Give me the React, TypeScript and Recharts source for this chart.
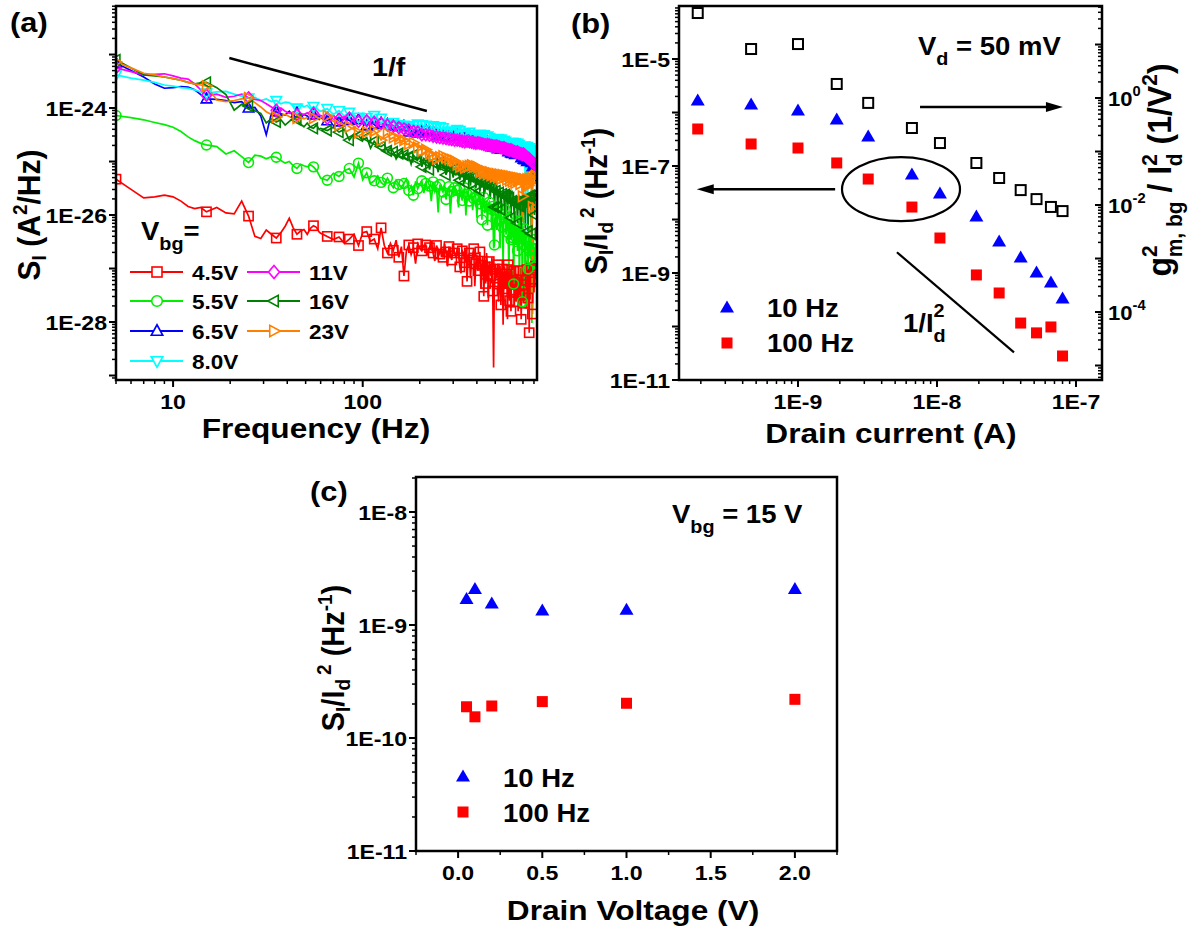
import React from 'react';
import { LineChart, Line, ScatterChart, Scatter, XAxis, YAxis, ReferenceLine, ReferenceDot } from 'recharts';

const FONT = '"Liberation Sans", Arial, Helvetica, sans-serif';

// ---------- panel (a): noise spectra, values stored as log10(S_I in A^2/Hz)
const FREQ = [5, 6, 7, 8, 9, 10, 11, 12, 13, 14, 15,
  17, 19, 21, 23, 25, 27, 29, 31, 33, 35, 37, 39, 41, 43, 45, 47, 49, 51, 53, 55, 57, 59,
  60, 65, 70, 75, 80, 85, 90, 95, 100, 105,
  110, 115, 120, 125, 130, 135, 140, 145, 150, 155,
  160, 165, 170, 175, 180, 185, 190, 195, 200, 205,
  210, 215, 220, 225, 230, 235, 240, 245, 250, 255,
  260, 265, 270, 275, 280, 285, 290, 295, 300, 305,
  310, 315, 320, 325, 330, 335, 340, 345, 350, 355,
  360, 365, 370, 375, 380, 385, 390, 395, 400, 405,
  410, 415, 420, 425, 430, 435, 440, 445, 450, 455,
  460, 465, 470, 475, 480, 485, 490, 495, 500, 505,
  510, 515, 520, 525, 530, 535, 540, 545, 550, 555,
  560, 565, 570, 575, 580, 585, 590, 595, 600, 605,
  610, 615, 620, 625, 630, 635, 640, 645, 650, 655,
  660, 665, 670, 675, 680, 685, 690, 695, 700, 705,
  710, 715, 720, 725, 730, 735, 740, 745, 750, 755,
  760, 765, 770, 775, 780, 785, 790, 795, 800, 805,
  810, 815, 820];

const LOG_SI_4V5 = [-25.33, -25.52, -25.68, -25.66, -25.63, -25.66, -25.74, -25.84, -25.88, -25.86, -25.94,
  -25.86, -25.96, -25.98, -25.74, -26.02, -26.40, -26.44, -26.28, -26.36, -26.43, -26.33, -26.21, -26.06, -26.24, -26.36, -26.30, -26.27, -26.36, -26.25, -26.20, -26.23, -26.32,
  -26.34, -26.40, -26.46, -26.41, -26.53, -26.45, -26.36, -26.57, -26.33, -26.31,
  -26.49, -26.45, -26.63, -26.24, -26.57, -26.71, -26.53, -26.66, -26.47, -26.79,
  -26.59, -27.14, -26.67, -26.56, -26.74, -26.61, -26.91, -26.54, -26.62, -26.67,
  -26.57, -26.56, -26.76, -26.61, -26.49, -26.71, -26.86, -26.57, -26.66, -26.73,
  -26.61, -26.79, -26.54, -26.69, -26.96, -26.59, -26.73, -26.84, -26.57, -26.71,
  -26.79, -26.63, -26.74, -26.97, -27.09, -26.67, -26.71, -26.89, -26.64, -27.24,
  -26.77, -26.71, -27.18, -26.84, -26.73, -26.63, -27.33, -26.91, -26.74, -27.04,
  -26.81, -26.69, -27.38, -26.94, -26.77, -27.52, -26.84, -27.28, -26.71, -26.97,
  -27.55, -26.87, -27.03, -27.14, -26.79, -27.42, -28.85, -27.01, -26.91, -27.18,
  -27.06, -26.93, -27.62, -27.29, -26.95, -27.68, -27.09, -27.01, -28.05, -27.16,
  -26.96, -27.38, -27.12, -27.02, -27.95, -26.93, -27.23, -27.60, -27.01, -27.80,
  -26.94, -27.40, -27.14, -27.05, -27.70, -27.26, -26.97, -27.62, -27.10, -27.22,
  -27.80, -27.04, -27.33, -27.50, -26.98, -27.95, -27.16, -27.30, -27.00, -27.65,
  -27.08, -27.48, -27.00, -27.22, -27.75, -27.02, -27.36, -27.55, -26.93, -28.20,
  -27.10, -27.25, -27.58, -26.99, -27.38, -27.85, -27.06, -27.20, -27.45, -27.02,
  -27.20, -26.95, -27.05];

const LOG_SI_5V5 = [-24.14, -24.18, -24.22, -24.27, -24.31, -24.36, -24.44, -24.54, -24.61, -24.66, -24.69,
  -24.72, -24.86, -24.80, -24.91, -25.02, -24.88, -24.90, -24.95, -24.91, -24.92, -24.98, -25.03, -25.00, -25.08, -25.13, -25.05, -25.08, -25.10, -25.06, -25.10, -25.16, -25.26,
  -25.31, -25.35, -25.22, -25.28, -25.17, -25.13, -25.29, -25.03, -25.34, -25.21,
  -25.41, -25.36, -25.27, -25.39, -25.44, -25.31, -25.41, -25.49, -25.35, -25.43,
  -25.47, -25.41, -25.33, -25.54, -25.46, -25.63, -25.37, -25.51, -25.42, -25.36,
  -25.59, -25.41, -25.51, -25.46, -25.74, -25.38, -25.56, -25.47, -25.95, -25.43,
  -25.51, -25.57, -25.44, -25.71, -25.53, -25.47, -25.97, -25.56, -25.61, -25.49,
  -25.63, -25.54, -25.86, -25.51, -25.64, -25.73, -25.57, -25.49, -26.01, -25.61,
  -25.56, -25.74, -25.63, -25.57, -25.91, -25.69, -25.61, -25.66, -26.05, -25.71,
  -25.64, -25.79, -25.71, -26.09, -25.74, -25.67, -25.96, -25.84, -25.73, -26.19,
  -25.79, -25.76, -25.99, -25.89, -26.28, -25.84, -26.62, -26.56, -25.94, -26.08,
  -26.28, -25.84, -25.96, -26.11, -26.62, -25.88, -26.04, -26.23, -26.92, -25.99,
  -26.12, -25.90, -26.37, -26.19, -25.98, -26.33, -27.10, -26.07, -26.29, -26.46,
  -26.02, -26.42, -26.17, -27.29, -26.32, -26.14, -26.56, -26.42, -26.24, -26.67,
  -26.19, -26.11, -27.32, -26.34, -26.16, -26.44, -26.29, -27.62, -26.19, -26.56,
  -26.39, -26.26, -27.75, -26.49, -26.31, -26.61, -26.44, -27.01, -26.34, -26.66,
  -26.49, -26.81, -26.39, -26.61, -28.02, -26.54, -26.71, -26.46, -27.12, -26.64,
  -26.59, -26.78, -26.54];

const LOG_SI_6V5 = [-23.16, -23.30, -23.42, -23.55, -23.63, -23.62, -23.60, -23.61, -23.66, -23.75, -23.83,
  -23.84, -23.86, -23.90, -23.88, -24.00, -23.99, -24.15, -24.50, -24.10, -24.07, -24.11, -24.13, -24.06, -24.15, -24.09, -24.17, -24.12, -24.15, -24.21, -24.13, -24.19, -24.16,
  -24.18, -24.24, -24.14, -24.26, -24.20, -24.23, -24.30, -24.22, -24.27, -24.33,
  -24.25, -24.31, -24.36, -24.28, -24.34, -24.30, -24.40, -24.33, -24.37, -24.35,
  -24.41, -24.34, -24.39, -24.45, -24.37, -24.42, -24.38, -24.47, -24.40, -24.43,
  -24.48, -24.41, -24.45, -24.43, -24.50, -24.44, -24.47, -24.52, -24.45, -24.49,
  -24.46, -24.53, -24.48, -24.51, -24.47, -24.55, -24.50, -24.52, -24.57, -24.51,
  -24.54, -24.50, -24.58, -24.53, -24.56, -24.52, -24.60, -24.55, -24.57, -24.54,
  -24.61, -24.56, -24.59, -24.63, -24.57, -24.60, -24.58, -24.65, -24.59, -24.62,
  -24.60, -24.66, -24.62, -24.64, -24.61, -24.68, -24.63, -24.66, -24.70, -24.64,
  -24.67, -24.65, -24.71, -24.66, -24.69, -24.73, -24.67, -24.70, -24.68, -24.74,
  -24.70, -24.76, -24.71, -24.73, -24.69, -24.77, -24.72, -24.75, -24.79, -24.73,
  -24.76, -24.74, -24.80, -24.75, -24.78, -24.82, -24.76, -24.79, -24.77, -24.84,
  -24.79, -24.85, -24.80, -24.83, -24.81, -24.87, -24.82, -24.86, -24.90, -24.84,
  -24.87, -24.85, -24.91, -24.86, -24.89, -24.93, -24.88, -24.92, -24.90, -24.96,
  -24.91, -24.97, -24.92, -24.95, -24.93, -25.00, -24.94, -24.98, -25.03, -24.97,
  -25.01, -24.99, -25.06, -25.02, -25.05, -25.10, -25.04, -25.08, -25.13, -25.07,
  -25.15, -25.25, -25.38];

const LOG_SI_8V0 = [-23.38, -23.44, -23.48, -23.52, -23.57, -23.59, -23.62, -23.63, -23.66, -23.70, -23.72,
  -23.70, -23.69, -23.74, -23.78, -23.81, -23.80, -23.86, -23.83, -23.88, -23.86, -23.92, -23.89, -23.90, -23.96, -24.00, -23.93, -23.98, -23.95, -24.02, -23.97, -24.00, -24.05,
  -24.06, -24.01, -24.12, -24.05, -24.15, -24.08, -24.13, -24.17, -24.10, -24.18,
  -24.22, -24.14, -24.25, -24.19, -24.24, -24.29, -24.21, -24.27, -24.23, -24.31,
  -24.26, -24.32, -24.28, -24.35, -24.29, -24.33, -24.38, -24.30, -24.36, -24.31,
  -24.37, -24.32, -24.40, -24.34, -24.39, -24.33, -24.43, -24.36, -24.40, -24.35,
  -24.42, -24.37, -24.41, -24.46, -24.38, -24.43, -24.40, -24.47, -24.39, -24.44,
  -24.45, -24.40, -24.48, -24.42, -24.46, -24.51, -24.43, -24.47, -24.44, -24.50,
  -24.52, -24.45, -24.49, -24.55, -24.47, -24.51, -24.48, -24.56, -24.50, -24.53,
  -24.54, -24.49, -24.58, -24.51, -24.56, -24.50, -24.60, -24.53, -24.57, -24.52,
  -24.61, -24.55, -24.58, -24.63, -24.56, -24.60, -24.57, -24.65, -24.58, -24.62,
  -24.63, -24.57, -24.66, -24.59, -24.64, -24.58, -24.68, -24.61, -24.65, -24.60,
  -24.69, -24.62, -24.66, -24.71, -24.63, -24.67, -24.64, -24.73, -24.65, -24.69,
  -24.70, -24.64, -24.74, -24.66, -24.71, -24.65, -24.76, -24.67, -24.72, -24.66,
  -24.77, -24.68, -24.74, -24.80, -24.69, -24.75, -24.71, -24.82, -24.70, -24.76,
  -24.78, -24.71, -25.60, -24.73, -24.80, -24.72, -26.55, -24.75, -24.83, -24.74,
  -24.86, -24.77, -24.84, -24.79, -26.40, -24.80, -24.88, -24.81, -24.90, -24.82,
  -24.92, -24.84, -24.95];

const LOG_SI_11V = [-23.25, -23.32, -23.38, -23.37, -23.36, -23.40, -23.44, -23.46, -23.55, -23.66, -23.76,
  -23.74, -23.80, -23.78, -23.74, -23.81, -23.84, -23.86, -23.92, -23.98, -24.04, -24.00, -24.06, -24.10, -24.08, -24.13, -24.10, -24.12, -24.09, -24.14, -24.10, -24.15, -24.13,
  -24.14, -24.19, -24.15, -24.21, -24.16, -24.19, -24.23, -24.25, -24.27, -24.24,
  -24.31, -24.27, -24.33, -24.29, -24.36, -24.32, -24.37, -24.34, -24.41, -24.37,
  -24.43, -24.39, -24.45, -24.41, -24.48, -24.44, -24.47, -24.45, -24.51, -24.50,
  -24.53, -24.50, -24.55, -24.51, -24.54, -24.53, -24.58, -24.54, -24.56, -24.55,
  -24.59, -24.56, -24.58, -24.57, -24.61, -24.58, -24.60, -24.59, -24.63, -24.60,
  -24.61, -24.60, -24.64, -24.61, -24.63, -24.62, -24.66, -24.63, -24.64, -24.62,
  -24.67, -24.63, -24.65, -24.64, -24.68, -24.65, -24.67, -24.66, -24.69, -24.65,
  -24.68, -24.66, -24.70, -24.67, -24.69, -24.68, -24.72, -24.69, -24.70, -24.68,
  -24.72, -24.69, -24.71, -24.70, -24.74, -24.71, -24.73, -24.72, -24.75, -24.71,
  -24.74, -24.72, -24.76, -24.73, -24.75, -24.74, -24.78, -24.75, -24.76, -24.74,
  -24.79, -24.76, -24.78, -24.77, -24.81, -24.78, -24.80, -24.79, -24.82, -24.78,
  -24.81, -24.80, -24.84, -24.81, -24.83, -24.82, -24.86, -24.83, -24.84, -24.82,
  -24.87, -24.84, -24.86, -24.85, -24.89, -24.86, -24.88, -24.87, -24.90, -24.86,
  -24.91, -24.88, -24.93, -24.90, -24.95, -24.92, -24.96, -24.94, -24.98, -24.95,
  -25.00, -24.97, -25.02, -24.99, -25.04, -25.01, -25.05, -25.03, -25.07, -25.04,
  -25.08, -25.06, -25.10];

const LOG_SI_16V = [-23.10, -23.25, -23.38, -23.40, -23.42, -23.45, -23.48, -23.52, -23.55, -23.53, -23.52,
  -23.62, -23.75, -24.04, -23.93, -23.96, -24.05, -24.10, -24.28, -24.20, -24.26, -24.22, -24.32, -24.25, -24.20, -24.22, -24.30, -24.35, -24.28, -24.36, -24.38, -24.32, -24.40,
  -24.38, -24.42, -24.36, -24.45, -24.40, -24.60, -24.48, -24.52, -24.60, -24.55,
  -24.75, -24.62, -24.70, -24.72, -24.68, -24.80, -24.74, -24.82, -24.95, -24.85,
  -24.80, -24.88, -24.84, -24.91, -25.05, -24.88, -24.93, -24.97, -24.90, -25.10,
  -24.95, -25.00, -24.96, -25.15, -24.99, -25.02, -25.00, -25.05, -25.20, -25.03,
  -25.06, -25.10, -25.04, -25.25, -25.08, -25.12, -25.10, -25.15, -25.30, -25.13,
  -25.15, -25.18, -25.14, -25.35, -25.18, -25.22, -25.20, -25.40, -25.23, -25.26,
  -25.24, -25.28, -25.45, -25.27, -25.30, -25.29, -25.33, -25.50, -25.32, -25.35,
  -25.34, -25.55, -25.36, -25.40, -25.38, -25.42, -25.60, -25.41, -25.45, -25.43,
  -25.46, -25.44, -25.70, -25.47, -25.50, -25.48, -25.52, -25.85, -25.51, -25.55,
  -25.53, -25.85, -25.55, -25.58, -25.56, -25.90, -25.58, -25.61, -25.60, -25.64,
  -25.95, -25.62, -25.66, -25.64, -26.00, -25.66, -25.70, -25.68, -25.72, -26.05,
  -25.70, -25.74, -25.72, -25.76, -26.10, -25.74, -25.78, -25.76, -25.80, -26.15,
  -25.78, -25.82, -25.80, -25.84, -26.20, -25.72, -25.70, -25.75, -26.00, -25.72,
  -25.70, -25.74, -26.25, -25.72, -25.68, -25.70, -25.66, -26.30, -25.69, -25.65,
  -25.68, -25.64, -25.66, -26.35, -25.65, -25.63, -25.67, -25.64, -25.66, -26.00,
  -25.62, -25.66, -25.60];

const LOG_SI_23V = [-23.14, -23.25, -23.35, -23.38, -23.42, -23.45, -23.48, -23.52, -23.55, -23.57, -23.59,
  -23.85, -23.88, -23.86, -23.83, -23.81, -23.90, -23.98, -24.07, -24.12, -24.17, -24.14, -24.12, -24.16, -24.20, -24.19, -24.16, -24.20, -24.18, -24.22, -24.19, -24.17, -24.22,
  -24.18, -24.15, -24.25, -24.32, -24.28, -24.35, -24.40, -24.46, -24.38, -24.45,
  -24.40, -24.43, -24.50, -24.60, -24.52, -24.48, -24.58, -24.55, -24.62, -24.58,
  -24.65, -24.60, -24.68, -24.67, -24.72, -24.65, -24.70, -24.74, -24.72, -24.80,
  -24.72, -24.78, -24.92, -24.85, -24.82, -24.90, -24.86, -24.95, -24.88, -24.92,
  -24.96, -24.90, -25.00, -24.93, -24.97, -24.95, -25.02, -24.97, -25.05, -24.99,
  -25.00, -25.06, -25.02, -25.10, -25.04, -25.08, -25.05, -25.12, -25.06, -25.09,
  -25.14, -25.08, -25.12, -25.07, -25.15, -25.10, -25.13, -25.09, -25.18, -25.11,
  -25.14, -25.20, -25.12, -25.16, -25.13, -25.22, -25.15, -25.18, -25.14, -25.24,
  -25.17, -25.20, -25.16, -25.26, -25.18, -25.22, -25.19, -25.28, -25.20, -25.23,
  -25.21, -25.30, -25.20, -25.24, -25.22, -25.32, -25.21, -25.25, -25.23, -25.30,
  -25.22, -25.26, -25.24, -25.34, -25.23, -25.27, -25.25, -25.36, -25.24, -25.28,
  -25.26, -25.38, -25.25, -25.29, -25.27, -25.40, -25.26, -25.30, -25.28, -25.35,
  -25.27, -25.31, -25.29, -25.42, -25.28, -25.32, -25.30, -25.65, -26.13, -25.33,
  -25.30, -25.34, -25.31, -25.44, -25.29, -25.33, -25.30, -25.45, -25.28, -25.32,
  -25.27, -25.40, -25.26, -25.30, -27.90, -25.85, -25.25, -25.35, -25.24, -25.28,
  -25.22, -25.26, -25.22];

const VBG_LABELS = ['4.5V', '5.5V', '6.5V', '8.0V', '11V', '16V', '23V'];
const VBG_LOGS = [LOG_SI_4V5, LOG_SI_5V5, LOG_SI_6V5, LOG_SI_8V0, LOG_SI_11V, LOG_SI_16V, LOG_SI_23V];
const VBG_COLORS = ['#ff0000', '#00ee00', '#0000ff', '#00ffff', '#ff00ff', '#008000', '#ff8000'];
const VBG_SHAPES = ['square', 'circle', 'up', 'down', 'diamond', 'left', 'right'];

// ---------- panel (b): normalized noise vs drain current
const B_CURRENT = [1.9e-10, 4.6e-10, 1.0e-9, 1.9e-9, 3.2e-9, 6.6e-9, 1.05e-8, 1.92e-8, 2.8e-8, 4.0e-8, 5.2e-8, 6.6e-8, 8.0e-8];
const B_SI_10HZ = [1.71e-6, 1.44e-6, 1.11e-6, 7.6e-7, 3.64e-7, 7.1e-8, 3.13e-8, 1.16e-8, 3.96e-9, 1.99e-9, 1.04e-9, 6.8e-10, 3.41e-10];
const B_SI_100HZ = [4.92e-7, 2.58e-7, 2.17e-7, 1.14e-7, 5.71e-8, 1.71e-8, 4.51e-9, 9.2e-10, 4.23e-10, 1.16e-10, 7.6e-11, 9.8e-11, 2.81e-11];
const B_GM = [38.8, 8.24, 10.2, 1.83, 0.81, 0.275, 0.144, 0.061, 0.032, 0.019, 0.0129, 0.0092, 0.0077];

// ---------- panel (c): normalized noise vs drain voltage
const C_VD = [0.05, 0.1, 0.2, 0.5, 1.0, 2.0];
const C_SI_10HZ = [1.72e-9, 2.11e-9, 1.57e-9, 1.36e-9, 1.38e-9, 2.11e-9];
const C_SI_100HZ = [1.89e-10, 1.54e-10, 1.92e-10, 2.1e-10, 2.03e-10, 2.2e-10];

// tick labels
const A_X_LABELS = [10, 100];
const A_Y_LABEL_EXP = [-28, -26, -24];
const B_X_LABEL_EXP = [-9, -8, -7];
const B_YL_LABEL_EXP = [-11, -9, -7, -5];
const B_YR_LABEL_EXP = [-4, -2, 0];
const C_Y_LABEL_EXP = [-11, -10, -9, -8];
const C_X_TICKS = [-0.25, 0, 0.25, 0.5, 0.75, 1, 1.25, 1.5, 1.75, 2, 2.25];
const C_X_LABELS = ['0.0', '0.5', '1.0', '1.5', '2.0'];
const C_X_LABEL_VALUES = [0, 0.5, 1, 1.5, 2];

// axis ranges (log10 of the ends for log axes)
const A_X_EXP = [Math.log10(5), Math.log10(830)];
const A_Y_EXP = [-29.084, -22.093];
const B_X_EXP = [-9.856, -6.813];
const B_YL_EXP = [-11, -4.009];
const B_YR_EXP = [-5.271, 1.72];
const C_Y_EXP = [-11, -7.69];

const pw = (e: number[]) => [Math.pow(10, e[0]), Math.pow(10, e[1])];

function logTicks(lo: number, hi: number) {
  const out: number[] = [];
  for (let e = Math.floor(lo); e <= Math.ceil(hi); e++) {
    for (let m = 1; m < 10; m++) {
      const v = m * Math.pow(10, e);
      const l = Math.log10(v);
      if (l >= lo - 1e-9 && l <= hi + 1e-9) out.push(v);
    }
  }
  return out;
}

const isDecade = (v: number) => {
  const l = Math.log10(v);
  return Math.abs(l - Math.round(l)) < 1e-6;
};

// text slightly stretched horizontally, like the source figure
function T({ x, y, size, anchor = 'start', rot = false, sx = 1.1, children }: any) {
  const tf = rot
    ? `translate(${x},${y}) scale(${sx},1) rotate(-90)`
    : `translate(${x},${y}) scale(${sx},1)`;
  return (
    <text transform={tf} fontFamily={FONT} fontWeight="bold" fontSize={size} textAnchor={anchor} fill="#000">
      {children}
    </text>
  );
}

function Marker({ shape, x, y, color, s = 4.6, fill = 'none', sw = 1.6 }: any) {
  const p = (pts: number[][]) => pts.map(([a, b]) => `${x + a},${y + b}`).join(' ');
  const common = { fill, stroke: color, strokeWidth: sw };
  switch (shape) {
    case 'square':
      return <rect x={x - s} y={y - s} width={2 * s} height={2 * s} {...common} />;
    case 'circle':
      return <circle cx={x} cy={y} r={s + 0.3} {...common} />;
    case 'up':
      return <polygon points={p([[0, -s * 1.25], [s * 1.15, s * 0.85], [-s * 1.15, s * 0.85]])} {...common} />;
    case 'down':
      return <polygon points={p([[0, s * 1.25], [s * 1.15, -s * 0.85], [-s * 1.15, -s * 0.85]])} {...common} />;
    case 'diamond':
      return <polygon points={p([[0, -s * 1.3], [s * 1.1, 0], [0, s * 1.3], [-s * 1.1, 0]])} {...common} />;
    case 'left':
      return <polygon points={p([[-s * 1.25, 0], [s * 0.85, -s * 1.15], [s * 0.85, s * 1.15]])} {...common} />;
    default:
      return <polygon points={p([[s * 1.25, 0], [-s * 0.85, -s * 1.15], [-s * 0.85, s * 1.15]])} {...common} />;
  }
}

function markerDot(props: any, shape: string, color: string) {
  const { cx, cy, index, payload } = props;
  if (cx == null || cy == null || (payload.f - 5) % 10 !== 0) return <g key={`e${index}`} />;
  return (
    <g key={`d${index}`}>
      <Marker shape={shape} x={cx} y={cy} color={color} />
    </g>
  );
}

const TICK_FS = 21;

function bottomTick(isMajor: (v: number) => boolean, label: (v: number) => string | null) {
  return (props: any) => {
    const { x, y, payload } = props;
    const v = payload.value;
    const major = isMajor(v);
    const lab = label(v);
    return (
      <g>
        <line x1={x} x2={x} y1={y} y2={y + (major ? 7 : 4)} stroke="#000" strokeWidth={major ? 2 : 1.5} />
        {lab != null && <T x={x} y={y + 29} size={TICK_FS} anchor="middle">{lab}</T>}
      </g>
    );
  };
}

function leftTick(labelExps: number[]) {
  return (props: any) => {
    const { x, y, payload } = props;
    const v = payload.value;
    const major = isDecade(v);
    const e = Math.round(Math.log10(v));
    const show = major && labelExps.includes(e);
    return (
      <g>
        <line x1={x} x2={x - (major ? 7 : 4)} y1={y} y2={y} stroke="#000" strokeWidth={major ? 2 : 1.5} />
        {show && <T x={x - 9} y={y + 7.5} size={TICK_FS} anchor="end">{`1E${e}`}</T>}
      </g>
    );
  };
}

function rightTick(labelExps: number[]) {
  return (props: any) => {
    const { x, y, payload } = props;
    const v = payload.value;
    const major = isDecade(v);
    const e = Math.round(Math.log10(v));
    const show = major && labelExps.includes(e);
    return (
      <g>
        <line x1={x} x2={x - (major ? 7 : 4)} y1={y} y2={y} stroke="#000" strokeWidth={major ? 2 : 1.5} />
        {show && (
          <T x={x + 6} y={y + 8} size={TICK_FS} anchor="start" sx={1.05}>
            10<tspan dy={-10} fontSize={14}>{e}</tspan>
          </T>
        )}
      </g>
    );
  };
}

const A_ROWS = FREQ.map((f, i) => {
  const row: any = { f };
  VBG_LOGS.forEach((arr, k) => { row[`s${k}`] = Math.pow(10, arr[i]); });
  return row;
});

const triUp = (cx: number, cy: number, color = '#0000ff') => (
  <polygon points={`${cx},${cy - 6.5} ${cx + 7},${cy + 5.5} ${cx - 7},${cy + 5.5}`} fill={color} />
);
const sqFill = (cx: number, cy: number) => <rect x={cx - 5.5} y={cy - 5.5} width={11} height={11} fill="#ff0000" />;
const sqOpen = (cx: number, cy: number) => (
  <rect x={cx - 5} y={cy - 5} width={10} height={10} fill="none" stroke="#000" strokeWidth={2} />
);

const B_ROWS_10 = B_CURRENT.map((x, i) => ({ x, y: B_SI_10HZ[i] }));
const B_ROWS_100 = B_CURRENT.map((x, i) => ({ x, y: B_SI_100HZ[i] }));
const B_ROWS_GM = B_CURRENT.map((x, i) => ({ x, y: B_GM[i] }));
const C_ROWS_10 = C_VD.map((x, i) => ({ x, y: C_SI_10HZ[i] }));
const C_ROWS_100 = C_VD.map((x, i) => ({ x, y: C_SI_100HZ[i] }));

const noTickStuff = { tickLine: false, axisLine: false, tickSize: 0, tickMargin: 0, interval: 0 as const };

function PanelA() {
  return (
    <div style={{ position: 'absolute', left: 0, top: 0 }}>
      <LineChart width={560} height={440} data={A_ROWS} margin={{ top: 6, right: 23, bottom: 20, left: 0 }}>
        <XAxis dataKey="f" type="number" scale="log" domain={pw(A_X_EXP)} allowDataOverflow
          ticks={logTicks(A_X_EXP[0], A_X_EXP[1])} height={40} {...noTickStuff}
          tick={bottomTick((v) => isDecade(v), (v) => (A_X_LABELS.some((l) => Math.abs(l - v) < 1e-6) ? String(Math.round(v)) : null))} />
        <YAxis type="number" scale="log" domain={pw(A_Y_EXP)} allowDataOverflow
          ticks={logTicks(A_Y_EXP[0], A_Y_EXP[1])} width={116} {...noTickStuff} tick={leftTick(A_Y_LABEL_EXP)} />
        {VBG_LABELS.map((lab, k) => (
          <Line key={lab} dataKey={`s${k}`} type="linear" stroke={VBG_COLORS[k]} strokeWidth={1.7}
            dot={(p: any) => markerDot(p, VBG_SHAPES[k], VBG_COLORS[k])} activeDot={false} isAnimationActive={false} />
        ))}
        <ReferenceLine segment={[{ x: 19.8, y: 8.6e-24 }, { x: 218, y: 8.8e-25 }]} stroke="#000" strokeWidth={2.5} ifOverflow="visible" />
      </LineChart>
    </div>
  );
}

function PanelB() {
  return (
    <div style={{ position: 'absolute', left: 560, top: 0 }}>
      <ScatterChart width={634} height={440} margin={{ top: 6, right: 32, bottom: 20, left: 0 }}>
        <XAxis dataKey="x" type="number" scale="log" domain={pw(B_X_EXP)} allowDataOverflow
          ticks={logTicks(B_X_EXP[0], B_X_EXP[1])} height={40} {...noTickStuff}
          tick={bottomTick((v) => isDecade(v), (v) => {
            const e = Math.round(Math.log10(v));
            return isDecade(v) && B_X_LABEL_EXP.includes(e) ? `1E${e}` : null;
          })} />
        <YAxis yAxisId="left" dataKey="y" type="number" scale="log" domain={pw(B_YL_EXP)} allowDataOverflow
          ticks={logTicks(B_YL_EXP[0], B_YL_EXP[1])} width={119} {...noTickStuff} tick={leftTick(B_YL_LABEL_EXP)} />
        <YAxis yAxisId="right" orientation="right" dataKey="y" type="number" scale="log" domain={pw(B_YR_EXP)} allowDataOverflow
          ticks={logTicks(B_YR_EXP[0], B_YR_EXP[1])} width={60} {...noTickStuff} tick={rightTick(B_YR_LABEL_EXP)} />
        <Scatter yAxisId="right" data={B_ROWS_GM} shape={(p: any) => sqOpen(p.cx, p.cy)} isAnimationActive={false} />
        <Scatter yAxisId="left" data={B_ROWS_10} shape={(p: any) => triUp(p.cx, p.cy)} isAnimationActive={false} />
        <Scatter yAxisId="left" data={B_ROWS_100} shape={(p: any) => sqFill(p.cx, p.cy)} isAnimationActive={false} />
        <ReferenceDot yAxisId="left" x={5.51e-9} y={3.69e-8} ifOverflow="visible"
          shape={(p: any) => <ellipse cx={p.cx} cy={p.cy} rx={59} ry={32} fill="none" stroke="#000" strokeWidth={2.2} />} />
        <ReferenceLine yAxisId="left" segment={[{ x: 1.85e-9, y: 3.69e-8 }, { x: 2.2e-10, y: 3.69e-8 }]} stroke="#000" strokeWidth={2.5} ifOverflow="visible" />
        <ReferenceDot yAxisId="left" x={1.87e-10} y={3.69e-8} ifOverflow="visible"
          shape={(p: any) => <polygon points={`${p.cx},${p.cy} ${p.cx + 17},${p.cy - 5} ${p.cx + 17},${p.cy + 5}`} fill="#000" />} />
        <ReferenceLine yAxisId="left" segment={[{ x: 7.55e-9, y: 1.265e-6 }, { x: 7.2e-8, y: 1.265e-6 }]} stroke="#000" strokeWidth={2.5} ifOverflow="visible" />
        <ReferenceDot yAxisId="left" x={8.05e-8} y={1.265e-6} ifOverflow="visible"
          shape={(p: any) => <polygon points={`${p.cx},${p.cy} ${p.cx - 17},${p.cy - 5} ${p.cx - 17},${p.cy + 5}`} fill="#000" />} />
        <ReferenceLine yAxisId="left" segment={[{ x: 5.15e-9, y: 2.44e-9 }, { x: 3.58e-8, y: 3.28e-11 }]} stroke="#000" strokeWidth={2.2} ifOverflow="visible" />
      </ScatterChart>
    </div>
  );
}

function PanelC() {
  return (
    <div style={{ position: 'absolute', left: 290, top: 470 }}>
      <ScatterChart width={600} height={460} margin={{ top: 7, right: 53, bottom: 39, left: 0 }}>
        <XAxis dataKey="x" type="number" domain={[-0.25, 2.25]} allowDataOverflow ticks={C_X_TICKS} height={40} {...noTickStuff}
          tick={bottomTick((v) => C_X_LABEL_VALUES.some((l) => Math.abs(l - v) < 1e-9), (v) => {
            const i = C_X_LABEL_VALUES.findIndex((l) => Math.abs(l - v) < 1e-9);
            return i >= 0 ? C_X_LABELS[i] : null;
          })} />
        <YAxis dataKey="y" type="number" scale="log" domain={pw(C_Y_EXP)} allowDataOverflow
          ticks={logTicks(C_Y_EXP[0], C_Y_EXP[1])} width={126} {...noTickStuff} tick={leftTick(C_Y_LABEL_EXP)} />
        <Scatter data={C_ROWS_10} shape={(p: any) => triUp(p.cx, p.cy)} isAnimationActive={false} />
        <Scatter data={C_ROWS_100} shape={(p: any) => sqFill(p.cx, p.cy)} isAnimationActive={false} />
      </ScatterChart>
    </div>
  );
}

function Overlay() {
  const rowsY = [272, 301, 331, 361];
  const entries = VBG_LABELS.map((lab, k) => {
    const col = k < 4 ? 0 : 1;
    const row = k < 4 ? k : k - 4;
    const x0 = col === 0 ? 130 : 247;
    return { lab, k, x0, y: rowsY[row] };
  });
  return (
    <svg width={1194} height={930} style={{ position: 'absolute', left: 0, top: 0, pointerEvents: 'none' }}>
      {/* frames */}
      <rect x={116} y={6} width={421} height={374} fill="none" stroke="#000" strokeWidth={2.5} />
      <rect x={679} y={6} width={423} height={374} fill="none" stroke="#000" strokeWidth={2.5} />
      <rect x={416} y={477} width={421} height={374} fill="none" stroke="#000" strokeWidth={2.5} />

      {/* panel letters */}
      <T x={10} y={32} size={28}>(a)</T>
      <T x={571} y={33} size={28}>(b)</T>
      <T x={310} y={501} size={28}>(c)</T>

      {/* panel (a) */}
      <T x={316} y={438} size={28} anchor="middle" sx={1.13}>Frequency (Hz)</T>
      <T x={40} y={215} size={30} anchor="middle" rot sx={1.05}>
        S<tspan dy={6} fontSize={19}>I</tspan><tspan dy={-6}> (A</tspan><tspan dy={-12} fontSize={19}>2</tspan><tspan dy={12}>/Hz)</tspan>
      </T>
      <T x={372} y={76} size={26}>1/f</T>
      <T x={141} y={240} size={25}>
        V<tspan dy={10} fontSize={18}>bg</tspan><tspan dy={-10}>=</tspan>
      </T>
      {entries.map((en) => (
        <g key={en.lab}>
          <line x1={en.x0} x2={en.x0 + 53} y1={en.y} y2={en.y} stroke={VBG_COLORS[en.k]} strokeWidth={1.8} />
          <Marker shape={VBG_SHAPES[en.k]} x={en.x0 + 27} y={en.y} color={VBG_COLORS[en.k]} s={5} fill="#fff" />
          <T x={en.x0 + 62} y={en.y + 7.5} size={20.5}>{en.lab}</T>
        </g>
      ))}

      {/* panel (b) */}
      <T x={891} y={443} size={28} anchor="middle" sx={1.13}>Drain current (A)</T>
      <T x={607} y={201} size={29} anchor="middle" rot sx={1.05}>
        S<tspan dy={6} fontSize={19}>I</tspan><tspan dy={-6}>/I</tspan><tspan dy={6} fontSize={19}>d</tspan>
        <tspan dy={-18} dx={4} fontSize={19}>2</tspan><tspan dy={12}> (Hz</tspan><tspan dy={-11} fontSize={19}>-1</tspan><tspan dy={11}>)</tspan>
      </T>
      <T x={1171} y={170} size={32} anchor="middle" rot sx={1.05}>
        g<tspan dy={-13} fontSize={21}>2</tspan><tspan dx={-12} dy={23} fontSize={21}>m, bg</tspan>
        <tspan dy={-10}> / I</tspan><tspan dy={-13} fontSize={21}>2</tspan><tspan dx={-12} dy={23} fontSize={21}>d</tspan>
        <tspan dy={-10}> (1/V</tspan><tspan dy={-13} fontSize={21}>2</tspan><tspan dy={13}>)</tspan>
      </T>
      <T x={918} y={55} size={25}>
        V<tspan dy={10} fontSize={18}>d</tspan><tspan dy={-10}> = 50 mV</tspan>
      </T>
      <T x={903} y={332} size={25}>
        1/I<tspan dy={-15} fontSize={18}>2</tspan><tspan dx={-10} dy={25} fontSize={18}>d</tspan>
      </T>
      {triUp(727, 307)}
      {sqFill(727, 343)}
      <T x={767} y={317} size={25}>10 Hz</T>
      <T x={767} y={352} size={25}>100 Hz</T>

      {/* panel (c) */}
      <T x={633} y={920} size={28} anchor="middle" sx={1.13}>Drain Voltage (V)</T>
      <T x={344} y={658} size={29} anchor="middle" rot sx={1.05}>
        S<tspan dy={6} fontSize={19}>I</tspan><tspan dy={-6}>/I</tspan><tspan dy={6} fontSize={19}>d</tspan>
        <tspan dy={-18} dx={4} fontSize={19}>2</tspan><tspan dy={12}> (Hz</tspan><tspan dy={-11} fontSize={19}>-1</tspan><tspan dy={11}>)</tspan>
      </T>
      <T x={672} y={523} size={25}>
        V<tspan dy={10} fontSize={18}>bg</tspan><tspan dy={-10}> = 15 V</tspan>
      </T>
      {triUp(463, 776)}
      {sqFill(463, 812)}
      <T x={503} y={787} size={25}>10 Hz</T>
      <T x={503} y={822} size={25}>100 Hz</T>
    </svg>
  );
}

export default function App() {
  return (
    <div style={{ position: 'absolute', left: 0, top: 0, width: 1194, height: 930, background: '#fff', fontFamily: FONT }}>
      <PanelA />
      <PanelB />
      <PanelC />
      <Overlay />
    </div>
  );
}
